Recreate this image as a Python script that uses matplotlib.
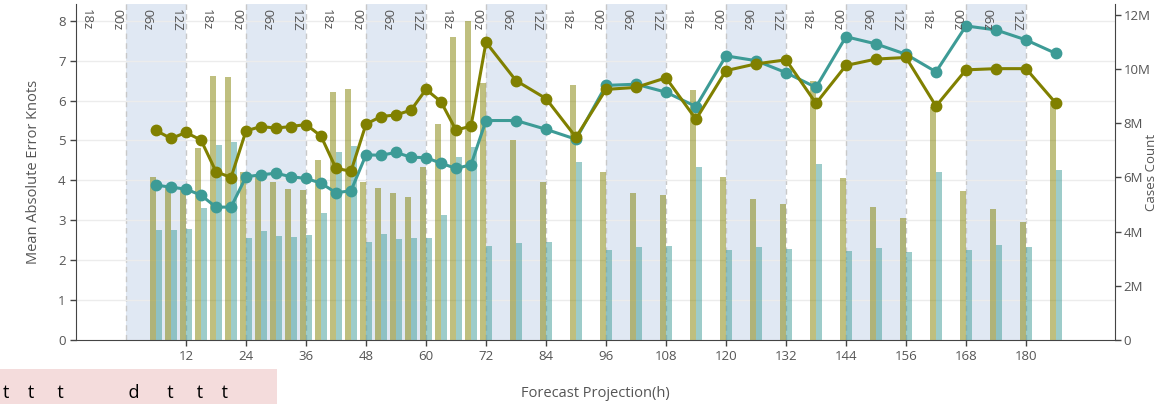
import matplotlib
matplotlib.use("Agg")
import matplotlib.pyplot as plt
from matplotlib.ticker import FuncFormatter
from matplotlib.transforms import blended_transform_factory
from matplotlib.patches import Rectangle

plt.rcParams['font.family'] = ['Open Sans', 'DejaVu Sans']

# ---------------- data ----------------
hours = [6, 9, 12, 15, 18, 21, 24, 27, 30, 33, 36, 39, 42, 45, 48, 51, 54, 57, 60, 63, 66, 69, 72,
         78, 84, 90, 96, 102, 108, 114, 120, 126, 132, 138, 144, 150, 156, 162, 168, 174, 180, 186]

mae_olive = [5.25, 5.05, 5.20, 5.01, 4.22, 4.07, 5.24, 5.35, 5.31, 5.35, 5.40, 5.11, 4.30, 4.23,
             5.41, 5.60, 5.64, 5.76, 6.28, 5.97, 5.26, 5.36, 7.46,
             6.50, 6.05, 5.08, 6.28, 6.33, 6.57, 5.53, 6.75, 6.92, 7.02, 5.93, 6.88, 7.04, 7.08,
             5.86, 6.77, 6.80, 6.80, 5.93]

mae_teal = [3.88, 3.83, 3.78, 3.63, 3.33, 3.33, 4.09, 4.14, 4.18, 4.09, 4.05, 3.93, 3.69, 3.74,
            4.64, 4.63, 4.70, 4.58, 4.57, 4.43, 4.30, 4.39, 5.50,
            5.50, 5.28, 5.03, 6.38, 6.41, 6.21, 5.85, 7.12, 7.00, 6.70, 6.33, 7.60, 7.42, 7.16,
            6.72, 7.87, 7.77, 7.52, 7.18]

cases_olive_m = [6.03, 5.60, 5.60, 7.10, 9.75, 9.72, 6.19, 6.03, 5.82, 5.56, 5.52, 6.64, 9.16, 9.26,
                 5.82, 5.62, 5.41, 5.29, 6.37, 7.97, 11.17, 11.78, 9.49,
                 7.38, 5.84, 9.41, 6.19, 5.44, 5.35, 9.23, 6.03, 5.20, 5.01, 9.56, 5.99, 4.92, 4.51,
                 8.61, 5.50, 4.82, 4.34, 8.83]

cases_teal_m = [4.06, 4.06, 4.08, 4.86, 7.21, 7.32, 3.75, 4.02, 3.85, 3.80, 3.89, 4.67, 6.95, 7.17,
                3.63, 3.92, 3.74, 3.75, 3.75, 4.61, 6.74, 7.13, 3.48,
                3.57, 3.63, 6.58, 3.32, 3.42, 3.48, 6.39, 3.32, 3.42, 3.36, 6.49, 3.28, 3.38, 3.26,
                6.19, 3.32, 3.51, 3.42, 6.27]

x_ticks = [12, 24, 36, 48, 60, 72, 84, 96, 108, 120, 132, 144, 156, 168, 180]
y_left_ticks = [0, 1, 2, 3, 4, 5, 6, 7, 8]
y_right_ticks = [0, 2, 4, 6, 8, 10, 12]
band_starts = [0, 24, 48, 72, 96, 120, 144, 168]
band_len = 12
zone_hours = list(range(-6, 181, 6))
zone_names = ['18z', '00z', '06z', '12Z']

# ---------------- style ----------------
OLIVE = '#808000'
TEAL = '#3d9b96'
BAND = '#e0e8f3'
GRID = '#ececec'
AXC = '#444444'
TXT = '#555555'

fig = plt.figure(figsize=(11.58, 4.04), dpi=100)
L, R, B, T = 76 / 1158, 1115 / 1158, 64 / 404, 400 / 404
ax2 = fig.add_axes([L, B, R - L, T - B])              # bars (right axis)
ax1 = fig.add_axes([L, B, R - L, T - B], sharex=ax2)  # lines (left axis)
ax1.set_zorder(ax2.get_zorder() + 1)
ax1.patch.set_visible(False)

xmin, xmax = -10, 197.8
ax2.set_xlim(xmin, xmax)
ax1.set_ylim(0, 8.42)
ax2.set_ylim(0, 12.4)

# bands and dashed edges
for s in band_starts:
    ax2.axvspan(s, s + band_len, color=BAND, zorder=0, lw=0)
    for e in (s, s + band_len):
        ax2.axvline(e, color='#c8c8c8', lw=1.0, ls=(0, (4, 3)), zorder=0.5)

# grid lines (left-axis values) drawn under the bars
gtrans = blended_transform_factory(ax2.transAxes, ax1.transData)
for v in y_left_ticks[1:]:
    ax2.plot([0, 1], [v, v], transform=gtrans, color=GRID, lw=1.0, zorder=0.6)

# bars
bw = 1.2
ax2.bar(hours, cases_olive_m, width=-bw, align='edge', color=OLIVE, alpha=0.5, lw=0, zorder=2)
ax2.bar(hours, cases_teal_m, width=bw, align='edge', color=TEAL, alpha=0.5, lw=0, zorder=2)

# lines
ax1.plot(hours, mae_olive, color=OLIVE, lw=2.2, marker='o', ms=7.5, zorder=4)
ax1.plot(hours, mae_teal, color=TEAL, lw=2.2, marker='o', ms=7.5, zorder=3)

# zone labels at top
ztrans = blended_transform_factory(ax1.transData, ax1.transAxes)
for i, h in enumerate(zone_hours):
    ax1.text(h - 1.9, 0.985, zone_names[i % 4], transform=ztrans, rotation=-90,
             ha='center', va='top', fontsize=9.5, color=TXT)

# axes styling
for ax in (ax1, ax2):
    ax.spines['top'].set_visible(False)
ax1.spines['right'].set_visible(False)
ax2.spines['left'].set_visible(False)
ax1.spines['left'].set_color(AXC)
ax1.spines['bottom'].set_color(AXC)
ax2.spines['right'].set_color(AXC)
ax2.spines['bottom'].set_visible(False)

ax1.set_xticks(x_ticks)
ax1.set_xticklabels([str(t) for t in x_ticks])
ax1.set_yticks(y_left_ticks)
ax1.tick_params(axis='both', colors=AXC, labelcolor=TXT, labelsize=9.5, length=4, width=1)
ax1.tick_params(axis='x', pad=3)
ax2.tick_params(axis='x', bottom=False, labelbottom=False)
ax2.yaxis.tick_right()
ax2.set_yticks(y_right_ticks)
ax2.yaxis.set_major_formatter(FuncFormatter(lambda v, p: '0' if v == 0 else f'{int(v)}M'))
ax2.tick_params(axis='y', colors=AXC, labelcolor=TXT, labelsize=9.5, length=4, width=1, pad=2)
ax1.grid(False)
ax2.grid(False)

ax1.set_xlabel('Forecast Projection(h)', fontsize=10.5, color=TXT, labelpad=17)
ax1.set_ylabel('Mean Absolute Error Knots', fontsize=10.5, color=TXT, labelpad=12)
fig.text(1145 / 1158, (404 - 172) / 404, 'Cases Count', rotation=90, ha='left', va='center',
         fontsize=9.5, color=TXT)

# pink overlay box at bottom-left with its text
fig.patches.append(Rectangle((0, 0), 277 / 1158, 35 / 404, transform=fig.transFigure,
                             facecolor='#f4dcdc', edgecolor='none', zorder=5))
pink_text = 't' + ' ' * 4 + 't' + ' ' * 5 + 't' + ' ' * 14 + 'd' + ' ' * 6 + 't' + ' ' * 5 + 't' + ' ' * 4 + 't'
fig.text(3 / 1158, 6 / 404, pink_text, fontsize=13, color='black',
         ha='left', va='baseline', zorder=6)

fig.savefig('out.png', dpi=100)
